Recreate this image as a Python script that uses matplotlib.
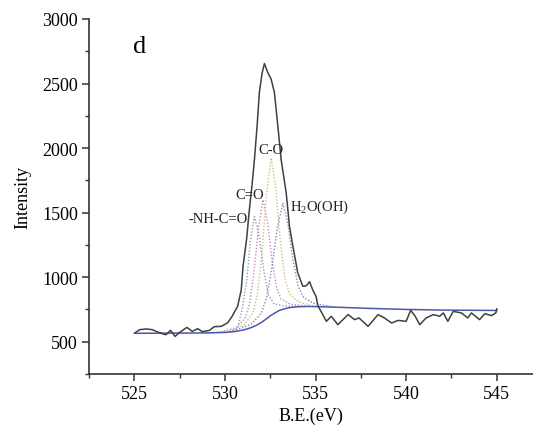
import numpy as np
import matplotlib
matplotlib.use("Agg")
import matplotlib.pyplot as plt
from matplotlib.ticker import MultipleLocator

plt.rcParams["font.family"] = ["Liberation Serif", "DejaVu Serif"]
plt.rcParams["mathtext.fontset"] = "custom"
plt.rcParams["mathtext.rm"] = "Liberation Serif"

# measured envelope (raw spectrum)
env_x = [525.05, 525.3, 525.65, 526.0, 526.2, 526.55, 526.75, 527.0, 527.25, 527.5,
         527.9, 528.2, 528.5, 528.75, 529.15, 529.4, 529.8, 530.15, 530.4, 530.7,
         530.9, 531.0, 531.2, 531.35, 531.5, 531.63, 531.78, 531.9, 532.05, 532.18,
         532.35, 532.55, 532.73, 532.92, 533.1, 533.38, 533.56, 533.75, 534.02, 534.3,
         534.5, 534.67, 534.85, 535.03, 535.13, 535.3, 535.6, 535.87, 536.23, 536.8,
         537.15, 537.4, 537.9, 538.45, 538.8, 539.2, 539.55, 540.0, 540.25, 540.5,
         540.75, 541.1, 541.5, 541.85, 542.05, 542.3, 542.6, 543.05, 543.4, 543.6,
         544.05, 544.35, 544.7, 544.95, 545.0]
env_y = [570, 593, 599, 593, 580, 562, 554, 588, 541, 572,
         611, 580, 601, 578, 588, 616, 619, 647, 697, 774,
         900, 1085, 1300, 1525, 1720, 1913, 2180, 2431, 2580, 2655,
         2590, 2534, 2431, 2171, 1913, 1654, 1395, 1240, 1033, 929,
         935, 965, 900, 850, 780, 735, 658, 697, 632, 710,
         671, 684, 619, 710, 684, 645, 665, 658, 743, 697,
         632, 684, 710, 697, 723, 658, 735, 723, 684, 723,
         671, 717, 702, 723, 754]

# background line
bg_x = [525.0, 529.0, 530.0, 530.5, 531.0, 531.25, 531.5, 531.75, 532.0, 532.25,
        532.5, 532.75, 533.0, 533.25, 533.5, 533.75, 534.0, 534.5, 535.0, 536.0,
        538.0, 540.0, 542.0, 545.0]
bg_y = [565, 568, 572, 578, 590, 600, 612, 628, 648, 673,
        700, 722, 742, 753, 762, 767, 771, 773, 772, 768,
        758, 750, 745, 742]

# fitted components
nh_x = [529.2, 530.2, 530.7, 530.95, 531.2, 531.4, 531.63, 531.9, 532.15, 532.4, 532.7, 533.2, 534.2]
nh_y = [569, 575, 605, 752, 968, 1273, 1470, 1313, 1044, 862, 795, 777, 772]

co2_x = [529.6, 530.6, 531.1, 531.35, 531.6, 531.85, 532.1, 532.35, 532.6, 532.85, 533.1, 533.6, 534.6]
co2_y = [570, 608, 678, 790, 1036, 1380, 1600, 1428, 1128, 916, 830, 792, 773]

co_x = [530.05, 531.05, 531.55, 531.8, 532.05, 532.3, 532.55, 532.8, 533.05, 533.3, 533.55, 534.05, 535.05]
co_y = [571, 629, 724, 874, 1199, 1652, 1925, 1702, 1293, 999, 873, 808, 772]

oh_x = [530.28, 531.43, 532.0, 532.29, 532.58, 532.9, 533.2, 533.48, 533.76, 534.04, 534.33, 534.9, 536.03]
oh_y = [575, 633, 720, 837, 1066, 1390, 1575, 1410, 1127, 931, 844, 797, 768]

fig = plt.figure(figsize=(5.33, 4.31), dpi=100)
ax = fig.add_axes([0.167, 0.130, 0.833, 0.8236])

dots = (0, (1, 1.3))
ax.plot(nh_x, nh_y, ls=dots, color="#8d9bc9", lw=1.0)
ax.plot(co2_x, co2_y, ls=dots, color="#c88cbc", lw=1.0)
ax.plot(co_x, co_y, ls=dots, color="#c9c27c", lw=1.0)
ax.plot(oh_x, oh_y, ls=dots, color="#7f8ab9", lw=1.0)
ax.plot(bg_x, bg_y, color="#4b56ad", lw=1.1)
ax.plot(env_x, env_y, color="#404040", lw=1.1)

ax.set_xlim(522.5, 547.0)
ax.set_ylim(250, 3000)
ax.xaxis.set_major_locator(MultipleLocator(5))
ax.xaxis.set_minor_locator(MultipleLocator(2.5))
ax.yaxis.set_major_locator(MultipleLocator(500))
ax.yaxis.set_minor_locator(MultipleLocator(250))
ax.set_yticks([500, 1000, 1500, 2000, 2500, 3000])

for side in ("top", "right"):
    ax.spines[side].set_visible(False)
for side in ("left", "bottom"):
    ax.spines[side].set_linewidth(1.2)
    ax.spines[side].set_color("#333333")
ax.tick_params(which="major", length=5, width=1.1, color="#333333", labelsize=13, pad=3)
ax.tick_params(which="minor", length=3, width=1.0, color="#333333")

ax.set_xlabel("B.E.(eV)", fontsize=13, labelpad=3)
ax.set_ylabel("Intensity", fontsize=13, labelpad=8)

ax.text(525.3, 2790, "d", fontsize=19, ha="center", va="center")
ax.text(532.55, 1990, "C-O", fontsize=10.5, ha="center", va="center", color="#222222")
ax.text(531.35, 1641, "C=O", fontsize=10.5, ha="center", va="center", color="#222222")
ax.text(529.65, 1455, "-NH-C=O", fontsize=10.5, ha="center", va="center", color="#222222")
ax.text(535.2, 1546, r"H$\mathregular{_2}$O(OH)", fontsize=10.5, ha="center", va="center",
        color="#222222")

fig.savefig("out.png", dpi=100)
